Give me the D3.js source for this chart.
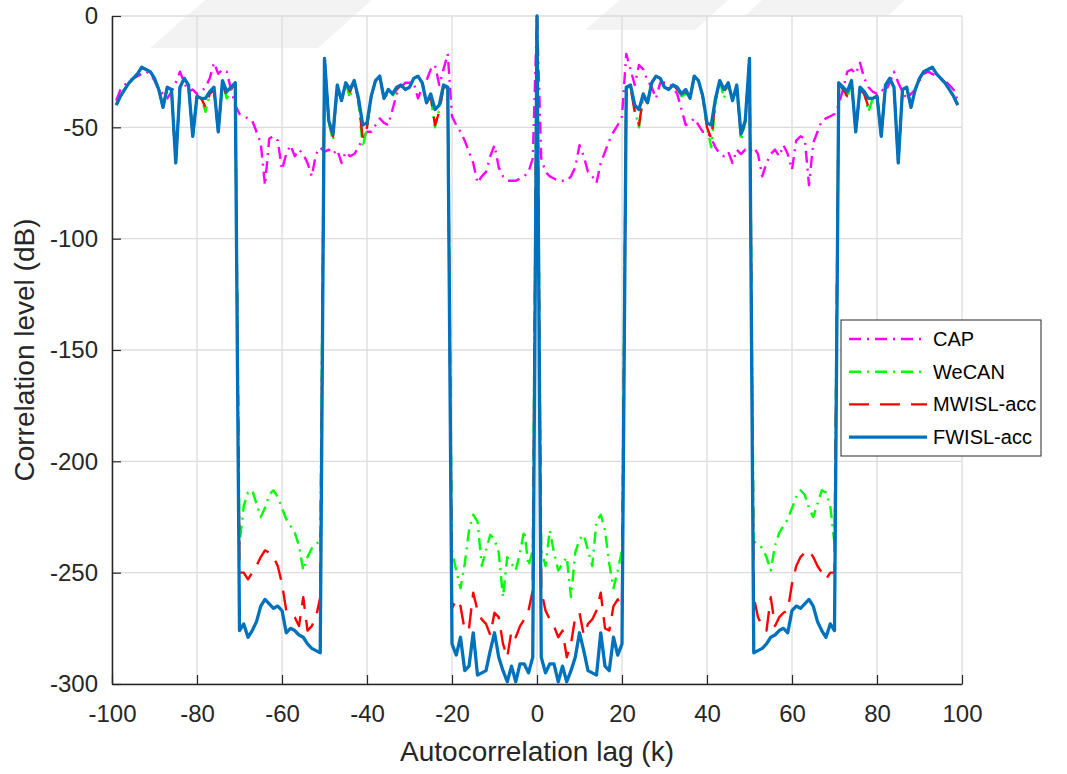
<!DOCTYPE html>
<html>
<head>
<meta charset="utf-8">
<script src="https://cdn.jsdelivr.net/npm/d3@7"></script>
<style>
  body { margin: 0; background: #fff; }
  text { font-family: "Liberation Sans", Arial, sans-serif; }
</style>
</head>
<body>
<div id="chart"></div>
<script>
// lags 0..99, autocorrelation is symmetric so the negative side mirrors these
var lagsPos = d3.range(0, 100);

var capPos = [0,
  -64,-70,-72,-73,-74,-74,-74,-72,-68,-58,
  -63,-70,-72,-75,-66,-61,-56,-52,-49,-45,
  -17,-24,-31,-22,-24,-29,-32,-37,-30,-30,
  -30,-32,-35,-42,-49,-48,-46,-49,-52,-52,
  -55,-59,-62,-63,-61,-66,-60,-62,-60,-61,
  -59,-62,-72,-66,-62,-60,-63,-58,-62,-69,
  -56,-54,-55,-76,-57,-52,-47,-46,-45,-44,
  -40,-33,-25,-24,-26,-21,-28,-32,-34,-35,
  -33,-34,-30,-25,-30,-34,-37,-35,-33,-29,
  -26,-25,-26,-27,-28,-29,-31,-33,-38];

var wecanPos = [0,
  -240,-247,-231,-241,-249,-246,-243,-261,-241,-235,
  -233,-240,-247,-227,-224,-231,-246,-257,-249,-240,
  -32,-32,-42,-50,-36,-39,-30,-27,-28,-32,
  -33,-31,-33,-36,-35,-37,-27,-29,-36,-50,
  -59,-39,-29,-37,-30,-38,-32,-56,-48,-19,
  -236,-237,-239,-243,-249,-238,-232,-229,-226,-221,
  -216,-213,-215,-221,-225,-219,-213,-214,-220,-237,
  -30,-33,-37,-30,-52,-33,-35,-43,-37,-36,
  -54,-31,-28,-32,-66,-33,-32,-41,-33,-28,
  -25,-24,-23,-26,-28,-30,-33,-36,-40];

var mwislPos = [0,
  -258,-267,-271,-274,-279,-276,-288,-282,-270,-268,
  -278,-273,-271,-267,-259,-275,-276,-265,-262,-266,
  -32,-32,-43,-49,-36,-39,-30,-27,-28,-32,
  -33,-31,-33,-35,-34,-37,-27,-29,-36,-50,
  -55,-38,-29,-34,-30,-38,-32,-54,-47,-19,
  -261,-270,-274,-276,-261,-274,-270,-268,-267,-255,
  -247,-243,-241,-240,-243,-247,-250,-253,-250,-250,
  -30,-33,-36,-30,-52,-33,-35,-41,-37,-36,
  -54,-31,-28,-32,-66,-33,-32,-41,-33,-28,
  -25,-24,-23,-26,-28,-30,-33,-36,-40];

var fwislPos = [0,
  -288,-295,-291,-291,-299,-292,-299,-294,-288,-277,
  -285,-294,-295,-296,-277,-292,-294,-279,-287,-282,
  -32,-31,-40,-42,-35,-39,-30,-27,-28,-32,
  -33,-31,-32,-35,-33,-37,-27,-29,-36,-48,
  -49,-37,-29,-33,-30,-38,-31,-53,-47,-19,
  -286,-285,-284,-282,-279,-278,-276,-275,-277,-267,
  -265,-266,-264,-262,-265,-272,-276,-279,-273,-276,
  -30,-32,-34,-29,-52,-32,-34,-37,-37,-36,
  -54,-31,-28,-32,-66,-33,-32,-41,-33,-28,
  -25,-24,-23,-26,-28,-30,-33,-36,-40];

var seriesNames = ["CAP", "WeCAN", "MWISL-acc", "FWISL-acc"];
var xTicks = [-100, -80, -60, -40, -20, 0, 20, 40, 60, 80, 100];
var yTicks = [0, -50, -100, -150, -200, -250, -300];

var W = 1067, H = 774;
var margin = {top: 16, right: 105, bottom: 90, left: 112},
  width = W - margin.left - margin.right,
  height = H - margin.top - margin.bottom;

var svg = d3.select("#chart")
.append("svg")
  .attr("width", W)
  .attr("height", H);

svg.append("rect").attr("width", W).attr("height", H).attr("fill", "#fff");

// faint watermark bands at the top of the page
var marks = [
  [[150, 48], [205, 0], [372, 0], [318, 48]],
  [[585, 30], [620, 0], [728, 0], [695, 30]],
  [[745, 16], [762, 0], [905, 0], [888, 16]]
];
svg.selectAll(".wm").data(marks).enter().append("polygon")
  .attr("points", function(d) { return d.map(function(p) { return p.join(","); }).join(" "); })
  .attr("fill", "#f3f3f3");

var g = svg.append("g")
  .attr("transform", "translate(" + margin.left + "," + margin.top + ")");

var x = d3.scaleLinear().domain([-100, 100]).range([0, width]);
var y = d3.scaleLinear().domain([-300, 0]).range([height, 0]);

// grid
g.selectAll(".gx").data(xTicks).enter().append("line")
  .attr("x1", function(d) { return x(d); }).attr("x2", function(d) { return x(d); })
  .attr("y1", 0).attr("y2", height)
  .attr("stroke", "#dcdcdc").attr("stroke-width", 1.3);
g.selectAll(".gy").data(yTicks).enter().append("line")
  .attr("y1", function(d) { return y(d); }).attr("y2", function(d) { return y(d); })
  .attr("x1", 0).attr("x2", width)
  .attr("stroke", "#dcdcdc").attr("stroke-width", 1.3);

// axes (plain hyphen for negatives, like the original)
var fmt = function(d) { return String(d); };
var xAxis = g.append("g")
  .attr("transform", "translate(0," + height + ")")
  .call(d3.axisBottom(x).tickValues(xTicks).tickFormat(fmt).tickSizeInner(-9).tickSizeOuter(0).tickPadding(21));
var yAxis = g.append("g")
  .call(d3.axisLeft(y).tickValues(yTicks).tickFormat(fmt).tickSizeInner(-9).tickSizeOuter(0).tickPadding(14));
[xAxis, yAxis].forEach(function(a) {
  a.select(".domain").attr("stroke", "#262626").attr("stroke-width", 1.5);
  a.selectAll(".tick line").attr("stroke", "#262626").attr("stroke-width", 1.2);
  a.selectAll(".tick text").attr("fill", "#262626")
    .style("font-size", "24px").style("font-family", "'Liberation Sans', Arial, sans-serif");
});

// lines
var lags = d3.range(-99, 100);
function full(pos) {
  return lags.map(function(k) { return {k: k, v: pos[lagsPos.indexOf(Math.abs(k))]}; });
}
var series = [
  {name: seriesNames[0], values: full(capPos),   color: "#ff00ff", dash: "12,6,2,6", w: 2.4},
  {name: seriesNames[1], values: full(wecanPos), color: "#00ff00", dash: "12,6,2,6", w: 2.4},
  {name: seriesNames[2], values: full(mwislPos), color: "#ff0000", dash: "20,11",    w: 2.4},
  {name: seriesNames[3], values: full(fwislPos), color: "#0072bd", dash: null,       w: 3.3}
];

g.append("clipPath").attr("id", "clip")
  .append("rect").attr("x", 0).attr("y", -2).attr("width", width).attr("height", height + 4);

var line = d3.line()
  .x(function(d) { return x(d.k); })
  .y(function(d) { return y(d.v); });

g.append("g").attr("clip-path", "url(#clip)")
  .selectAll("path").data(series).enter().append("path")
  .attr("d", function(d) { return line(d.values); })
  .attr("fill", "none")
  .attr("stroke", function(d) { return d.color; })
  .attr("stroke-width", function(d) { return d.w; })
  .attr("stroke-dasharray", function(d) { return d.dash; })
  .attr("stroke-linejoin", "round");

// axis titles
svg.append("text")
  .attr("x", margin.left + width / 2).attr("y", 761)
  .attr("text-anchor", "middle")
  .style("font-size", "28px").attr("fill", "#262626")
  .text("Autocorrelation lag (k)");

svg.append("text")
  .attr("transform", "translate(34," + (margin.top + height / 2) + ") rotate(-90)")
  .attr("text-anchor", "middle")
  .style("font-size", "28px").attr("fill", "#262626")
  .text("Correlation level (dB)");

// legend
var lg = svg.append("g").attr("transform", "translate(841,320)");
lg.append("rect").attr("width", 200).attr("height", 136)
  .attr("fill", "#fff").attr("stroke", "#262626").attr("stroke-width", 1);
var item = lg.selectAll(".item").data(series).enter().append("g")
  .attr("transform", function(d, i) { return "translate(0," + (19 + i * 32.7) + ")"; });
item.append("line")
  .attr("x1", 8).attr("x2", 86)
  .attr("stroke", function(d) { return d.color; })
  .attr("stroke-width", function(d) { return d.w; })
  .attr("stroke-dasharray", function(d) { return d.dash; });
item.append("text")
  .attr("x", 92).attr("dy", "0.35em")
  .style("font-size", "20px").attr("fill", "#000")
  .text(function(d) { return d.name; });
</script>
</body>
</html>
